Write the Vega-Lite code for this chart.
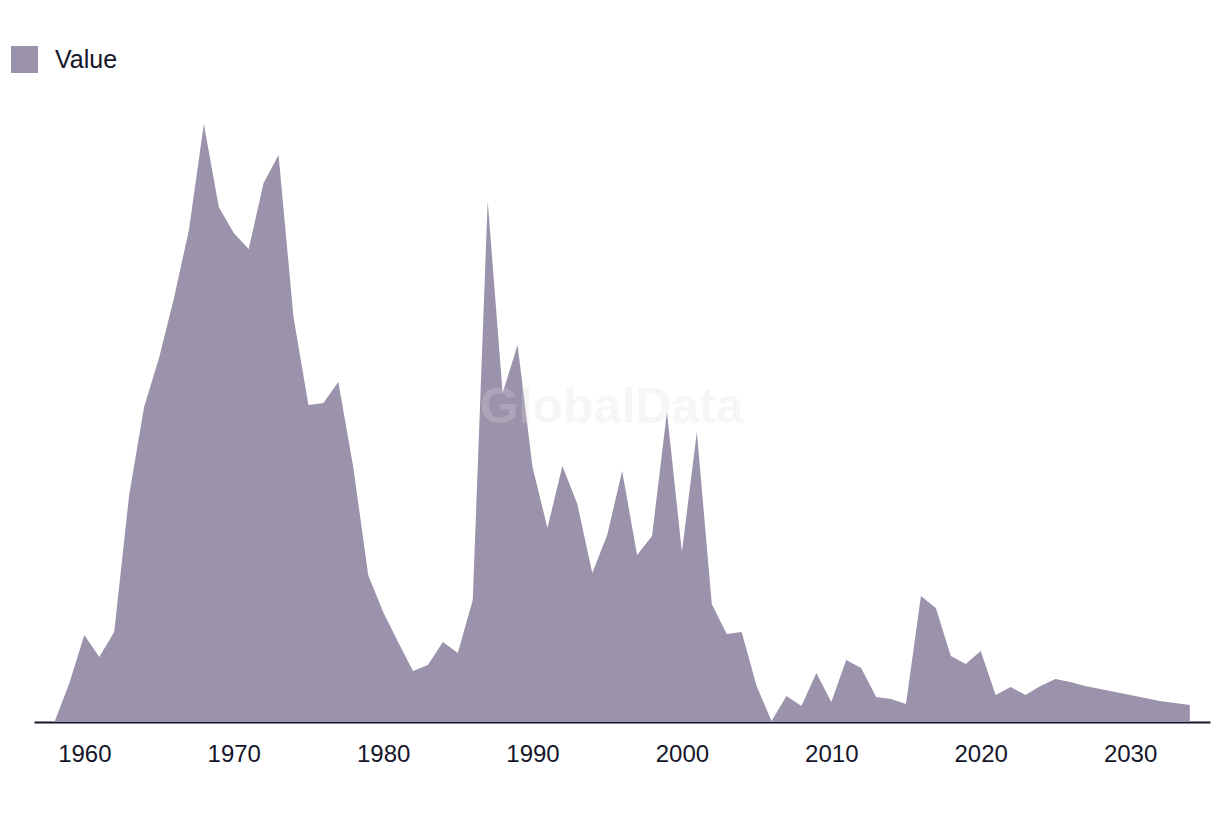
{
  "$schema": "https://vega.github.io/schema/vega-lite/v6.json",
  "width": 1176,
  "height": 600,
  "autosize": {"type": "none"},
  "padding": {"left": 34, "top": 122, "right": 10, "bottom": 94},
  "background": "white",
  "config": {"view": {"stroke": null}, "font": "Liberation Sans"},
  "datasets": {
    "main": [
      {"year": 1958, "value": 0}, {"year": 1959, "value": 39}, {"year": 1960, "value": 87},
      {"year": 1961, "value": 65}, {"year": 1962, "value": 90}, {"year": 1963, "value": 227},
      {"year": 1964, "value": 315}, {"year": 1965, "value": 364}, {"year": 1966, "value": 424},
      {"year": 1967, "value": 492}, {"year": 1968, "value": 598}, {"year": 1969, "value": 515},
      {"year": 1970, "value": 489}, {"year": 1971, "value": 473}, {"year": 1972, "value": 539},
      {"year": 1973, "value": 567}, {"year": 1974, "value": 405}, {"year": 1975, "value": 317},
      {"year": 1976, "value": 319}, {"year": 1977, "value": 340}, {"year": 1978, "value": 255},
      {"year": 1979, "value": 147}, {"year": 1980, "value": 110}, {"year": 1981, "value": 80},
      {"year": 1982, "value": 51}, {"year": 1983, "value": 57}, {"year": 1984, "value": 80},
      {"year": 1985, "value": 69}, {"year": 1986, "value": 122}, {"year": 1987, "value": 521},
      {"year": 1988, "value": 329}, {"year": 1989, "value": 377}, {"year": 1990, "value": 255},
      {"year": 1991, "value": 194}, {"year": 1992, "value": 256}, {"year": 1993, "value": 218},
      {"year": 1994, "value": 149}, {"year": 1995, "value": 187}, {"year": 1996, "value": 251},
      {"year": 1997, "value": 167}, {"year": 1998, "value": 186}, {"year": 1999, "value": 310},
      {"year": 2000, "value": 170}, {"year": 2001, "value": 290}, {"year": 2002, "value": 118},
      {"year": 2003, "value": 88}, {"year": 2004, "value": 90}, {"year": 2005, "value": 36},
      {"year": 2006, "value": 1}, {"year": 2007, "value": 26}, {"year": 2008, "value": 16},
      {"year": 2009, "value": 49}, {"year": 2010, "value": 20}, {"year": 2011, "value": 62},
      {"year": 2012, "value": 54}, {"year": 2013, "value": 25}, {"year": 2014, "value": 23},
      {"year": 2015, "value": 18}, {"year": 2016, "value": 126}, {"year": 2017, "value": 114},
      {"year": 2018, "value": 66}, {"year": 2019, "value": 58}, {"year": 2020, "value": 71},
      {"year": 2021, "value": 27}, {"year": 2022, "value": 35}, {"year": 2023, "value": 27},
      {"year": 2024, "value": 36}, {"year": 2025, "value": 43}, {"year": 2026, "value": 40},
      {"year": 2027, "value": 36}, {"year": 2028, "value": 33}, {"year": 2029, "value": 30},
      {"year": 2030, "value": 27}, {"year": 2031, "value": 24}, {"year": 2032, "value": 21},
      {"year": 2033, "value": 19}, {"year": 2034, "value": 17}
    ],
    "mark": [{"year": 1995.3, "value": 314, "label": "GlobalData"}]
  },
  "layer": [
    {
      "data": {"name": "main"},
      "mark": {"type": "area", "color": "#9b92ab", "opacity": 1},
      "encoding": {
        "x": {
          "field": "year", "type": "quantitative",
          "scale": {"domain": [1956.63, 2035.35], "nice": false, "zero": false},
          "axis": {
            "values": [1960, 1970, 1980, 1990, 2000, 2010, 2020, 2030],
            "format": "d", "title": null, "grid": false, "ticks": false,
            "domainColor": "#15152a", "domainWidth": 2,
            "labelFont": "Liberation Sans", "labelFontSize": 24, "labelColor": "#15152a",
            "labelPadding": 20
          }
        },
        "y": {
          "field": "value", "type": "quantitative",
          "scale": {"domain": [0, 600], "nice": false},
          "axis": null
        },
        "fill": {
          "datum": "Value", "type": "nominal",
          "scale": {"range": ["#9b92ab"]},
          "legend": {
            "title": null, "orient": "none", "legendX": -24, "legendY": -77,
            "symbolType": "square", "symbolSize": 729, "symbolOpacity": 1,
            "labelFont": "Liberation Sans", "labelFontSize": 25, "labelColor": "#15152a",
            "labelOffset": 16
          }
        }
      }
    },
    {
      "data": {"name": "mark"},
      "mark": {"type": "text", "fontSize": 50, "fontWeight": "bold", "font": "Liberation Sans", "color": "#dddddd", "opacity": 0.25, "align": "center", "baseline": "middle"},
      "encoding": {
        "x": {"field": "year", "type": "quantitative"},
        "y": {"field": "value", "type": "quantitative"},
        "text": {"field": "label"}
      }
    }
  ]
}
